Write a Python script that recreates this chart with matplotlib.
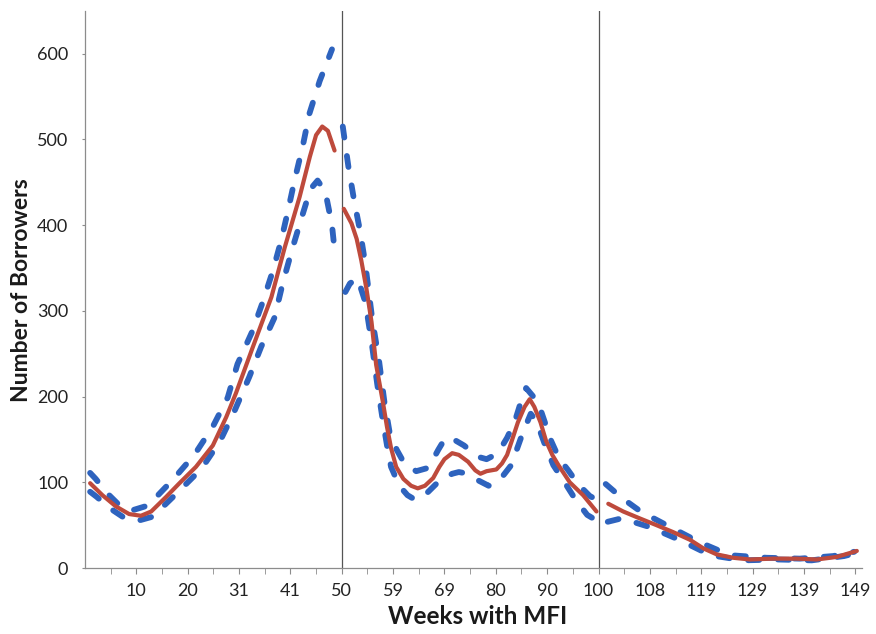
import matplotlib
matplotlib.use("Agg")
import matplotlib.pyplot as plt

plt.rcParams['font.family'] = ['Lato', 'DejaVu Sans']

# x is the category position (one slot per week in the table, 0..150)
tick_pos = [10, 20, 30, 40, 50, 60, 70, 80, 90, 100, 110, 120, 130, 140, 150]
tick_labels = ['10', '20', '31', '41', '50', '59', '69', '80', '90', '100',
               '108', '119', '129', '139', '149']
breaks = [50, 100]

# first period (before week 50)
mid_a_x = [1, 3.4, 6, 8.6, 10.9, 12.9, 15.8, 18.4, 21.6, 24.9, 27.5, 29.4,
           32.7, 36.3, 38.9, 41.8, 43.8, 45.0, 46.2, 47.3, 48.6]
mid_a = [99, 85, 72, 63, 61, 66, 83, 99, 118, 143, 176, 204,
         258, 316, 374, 433, 480, 505, 515, 510, 487]
hi_a_x = [1, 2.1, 4.2, 6.4, 9.0, 12.3, 17.1, 21.3, 24.9, 27.8, 29.7, 32.5,
          34.6, 36.6, 38.2, 39.5, 40.8, 42.4, 43.7, 45.7, 48.1]
hi_a = [111, 104, 88, 75, 67, 73, 103, 132, 165, 199, 238, 275,
        310, 347, 382, 416, 452, 492, 530, 568, 605]
lo_a_x = [1, 2.3, 4.8, 7.3, 10.2, 13.2, 18.0, 22.7, 26.3, 29.1, 32.0, 34.3,
          36.9, 38.5, 40.3, 42.1, 43.9, 45.3, 46.8, 48.1, 48.6]
lo_a = [89, 83, 70, 60, 55, 60, 88, 116, 148, 183, 223, 258,
        292, 332, 371, 407, 442, 452, 439, 400, 371]

# second period (weeks 50-100)
mid_b_x = [50.4, 51.9, 52.9, 53.8, 54.8, 55.8, 56.7, 58.0, 58.8, 59.6, 60.6,
           62.0, 63.5, 64.8, 66.2, 67.8, 69.0, 70.0, 71.5, 72.8, 74.6, 76.0,
           77.0, 78.2, 80.1, 81.2, 82.2, 83.2, 84.3, 85.6, 86.6, 87.5, 88.7,
           89.8, 91.0, 92.2, 94.4, 97.0, 99.6]
mid_b = [419, 402, 384, 359, 326, 287, 237, 194, 165, 140, 118,
         104, 96, 93, 96, 105, 118, 127, 134, 132, 124, 114,
         110, 113, 115, 122, 132, 150, 170, 188, 197, 188, 170,
         148, 132, 120, 100, 85, 66]
hi_b_x = [50.2, 51.3, 52.4, 53.6, 54.6, 55.9, 57.3, 58.3, 59.3, 60.7, 62.1,
          64.5, 66.9, 68.8, 70.2, 71.8, 73.8, 75.7, 77.0, 78.2, 79.5, 80.8,
          82.2, 83.7, 85.0, 85.9, 87.3, 88.7, 90.8, 92.3, 94.1, 96.0, 98.3,
          99.6]
hi_b = [515, 468, 429, 392, 354, 292, 240, 194, 159, 138, 123,
        113, 117, 138, 152, 150, 143, 134, 129, 127, 131, 138,
        152, 171, 196, 210, 200, 185, 148, 128, 114, 98, 84,
        80]
lo_b_x = [50.7, 51.6, 53.1, 54.6, 55.8, 56.9, 58.0, 58.9, 59.6, 60.4, 61.5,
          62.8, 64.2, 66.0, 68.7, 71.5, 72.8, 73.7, 76.0, 78.6, 80.8, 83.0,
          85.2, 86.8, 88.0, 89.5, 91.2, 93.6, 95.5, 97.8, 99.2]
lo_b = [322, 332, 338, 310, 264, 215, 172, 140, 118, 107, 94,
        85, 80, 84, 100, 110, 112, 111, 104, 96, 103, 120,
        157, 180, 170, 145, 120, 98, 80, 62, 57]

# third period (after week 100)
mid_c_x = [101.9, 104.8, 108.0, 111.3, 114.5, 117.8, 120.4, 123.0, 126.2,
           129.5, 134.0, 138.6, 142.5, 146.4, 150.3]
mid_c = [75, 66, 58, 50, 42, 33, 23, 16, 12, 10, 11, 11, 10, 13, 20]
hi_c_x = [101.4, 104.5, 108.2, 113.9, 119.7, 125.6, 132.7, 139.2, 145.7, 149.8]
hi_c = [98, 82, 66, 48, 30, 15, 12, 11, 14, 19]
lo_c_x = [101.8, 104.5, 109.9, 115.7, 121.8, 128.2, 135.0, 141.5, 147.8, 149.8]
lo_c = [54, 58, 48, 33, 15, 9, 10, 9, 14, 17]

red = '#BE4A3C'
blue = '#2E63BE'
axis_grey = '#8C8C8C'

fig = plt.figure(figsize=(8.76, 6.34), dpi=100)
ax = fig.add_axes([0.097, 0.104, 0.887, 0.879])

for xs, ys in [(hi_a_x, hi_a), (lo_a_x, lo_a), (hi_b_x, hi_b),
               (lo_b_x, lo_b), (hi_c_x, hi_c), (lo_c_x, lo_c)]:
    ax.plot(xs, ys, color=blue, lw=4.2, dashes=(1.9, 3.2),
            dash_capstyle='round', dash_joinstyle='round', zorder=2)

for xs, ys in [(mid_a_x, mid_a), (mid_b_x, mid_b), (mid_c_x, mid_c)]:
    ax.plot(xs, ys, color=red, lw=3.0, solid_capstyle='round',
            solid_joinstyle='round', zorder=3)

for b in breaks:
    ax.axvline(b, color='#555555', lw=0.9, zorder=1)

ax.set_xlim(0, 151.3)
ax.set_ylim(0, 650)

ax.set_yticks(range(0, 601, 100))
ax.set_xticks(tick_pos)
ax.set_xticklabels(tick_labels)
ax.set_xticks([p - 5 for p in tick_pos], minor=True)

for side in ['top', 'right']:
    ax.spines[side].set_visible(False)
for side in ['left', 'bottom']:
    ax.spines[side].set_color(axis_grey)
    ax.spines[side].set_linewidth(0.9)

ax.tick_params(axis='x', which='both', length=4, color=axis_grey,
               labelsize=13, pad=7, labelcolor='#222222')
ax.tick_params(axis='y', length=2, color=axis_grey, labelsize=13,
               pad=10, labelcolor='#222222')

fig.text(22 / 876, 1 - 290 / 634, 'Number of Borrowers', rotation=90,
         ha='center', va='center', fontsize=16.5, fontweight='bold',
         color='#1a1a1a')
fig.text(478 / 876, 1 - 617 / 634, 'Weeks with MFI', ha='center',
         va='center', fontsize=17.5, fontweight='bold', color='#1a1a1a')

fig.savefig('out.png', dpi=100)
